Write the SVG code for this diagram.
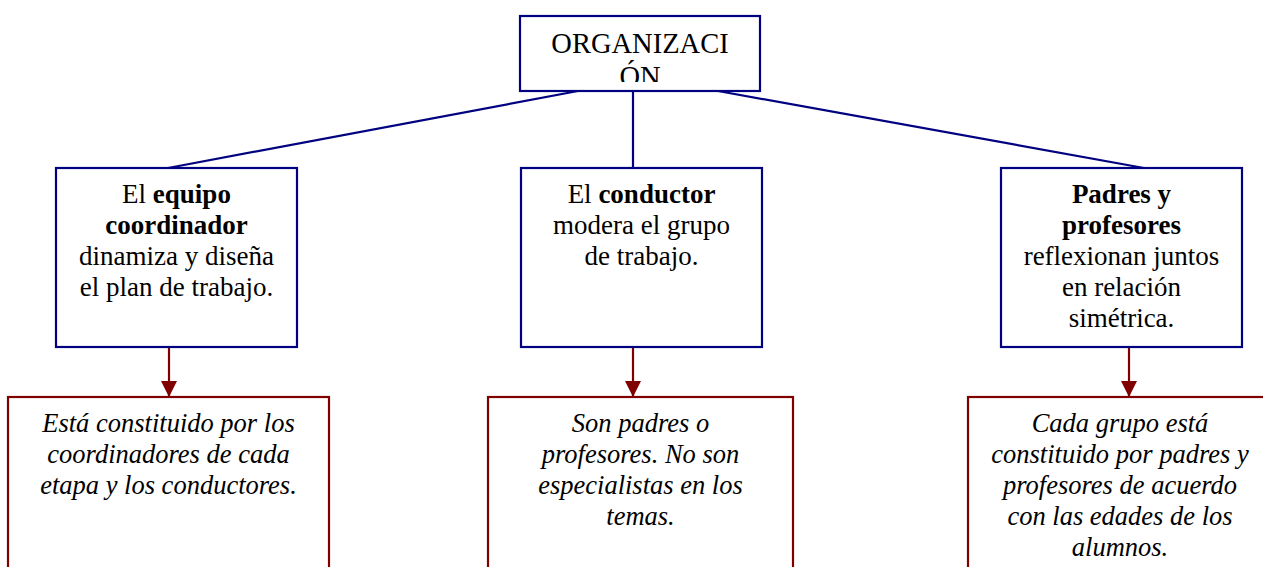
<svg xmlns="http://www.w3.org/2000/svg" width="1263" height="567" viewBox="0 0 1263 567">
<style>
.blue{fill:#fff;stroke:#000080;stroke-width:2.2}
.red{fill:#fff;stroke:#800000;stroke-width:2.2}
.bl{stroke:#000080;stroke-width:2.2;fill:none}
.rl{stroke:#800000;stroke-width:2.2;fill:none}
text{font-family:"Liberation Serif","Times New Roman",serif;fill:#000;text-anchor:middle}
.t{font-size:27px}
.tt{font-size:28.5px}
.i{font-size:26.5px;font-style:italic}
.b{font-weight:bold}
</style>
<defs>
<marker id="ar" markerWidth="16" markerHeight="16" refX="16" refY="8" orient="auto" markerUnits="userSpaceOnUse">
<path d="M0,0 L16,8 L0,16 Z" fill="#800000"/>
</marker>
<clipPath id="topclip"><rect x="521" y="17" width="238" height="65"/></clipPath>
</defs>
<g id="connectors">
<line class="bl" x1="578" y1="91" x2="168" y2="168"/>
<line class="bl" x1="633" y1="91" x2="633" y2="168"/>
<line class="bl" x1="718" y1="91" x2="1144" y2="168"/>
<line class="rl" x1="169" y1="347" x2="169" y2="397" marker-end="url(#ar)"/>
<line class="rl" x1="633" y1="347" x2="633" y2="397" marker-end="url(#ar)"/>
<line class="rl" x1="1129" y1="347" x2="1129" y2="397" marker-end="url(#ar)"/>
</g>
<g id="organizacion">
<rect class="blue" x="520" y="16" width="240" height="75"/>
<g clip-path="url(#topclip)">
<text class="tt" x="640" y="53">ORGANIZACI</text>
<text class="tt" x="640" y="86">ÓN</text>
</g>
</g>
<g id="equipo">
<rect class="blue" x="56" y="168" width="241" height="179"/>
<text class="t" x="176.5" y="203">El <tspan class="b">equipo</tspan></text>
<text class="t b" x="176.5" y="234">coordinador</text>
<text class="t" x="176.5" y="265">dinamiza y diseña</text>
<text class="t" x="176.5" y="296">el plan de trabajo.</text>
</g>
<g id="conductor">
<rect class="blue" x="521" y="168" width="241" height="179"/>
<text class="t" x="641.5" y="203">El <tspan class="b">conductor</tspan></text>
<text class="t" x="641.5" y="234">modera el grupo</text>
<text class="t" x="641.5" y="265">de trabajo.</text>
</g>
<g id="padres">
<rect class="blue" x="1001" y="168" width="241" height="179"/>
<text class="t b" x="1121.5" y="203">Padres y</text>
<text class="t b" x="1121.5" y="234">profesores</text>
<text class="t" x="1121.5" y="265">reflexionan juntos</text>
<text class="t" x="1121.5" y="296">en relación</text>
<text class="t" x="1121.5" y="327">simétrica.</text>
</g>
<g id="equipo-detalle">
<rect class="red" x="8" y="397" width="321" height="190"/>
<text class="i" x="168.5" y="432">Está constituido por los</text>
<text class="i" x="168.5" y="463">coordinadores de cada</text>
<text class="i" x="168.5" y="494">etapa y los conductores.</text>
</g>
<g id="conductor-detalle">
<rect class="red" x="488" y="397" width="305" height="190"/>
<text class="i" x="640.5" y="432">Son padres o</text>
<text class="i" x="640.5" y="463">profesores. No son</text>
<text class="i" x="640.5" y="494">especialistas en los</text>
<text class="i" x="640.5" y="525">temas.</text>
</g>
<g id="padres-detalle">
<rect class="red" x="968" y="397" width="305" height="190"/>
<text class="i" x="1120" y="432">Cada grupo está</text>
<text class="i" x="1120" y="463">constituido por padres y</text>
<text class="i" x="1120" y="494">profesores de acuerdo</text>
<text class="i" x="1120" y="525">con las edades de los</text>
<text class="i" x="1120" y="556">alumnos.</text>
</g>
</svg>
